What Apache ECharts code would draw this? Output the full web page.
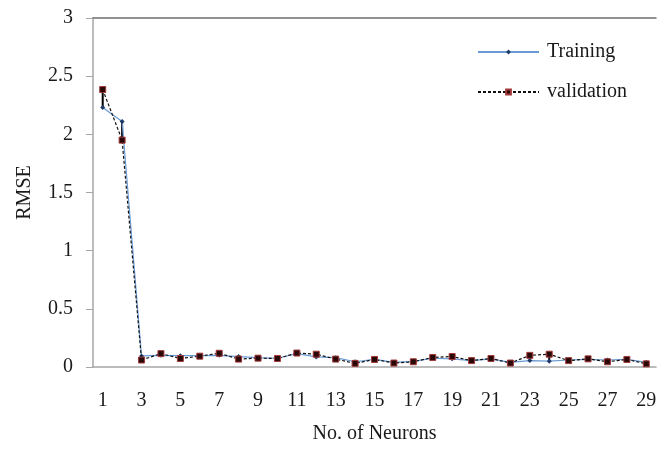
<!DOCTYPE html>
<html>
<head>
<meta charset="utf-8">
<script src="https://cdn.jsdelivr.net/npm/echarts@6/dist/echarts.min.js"></script>
<style>
  html, body { margin: 0; padding: 0; background: #fff; }
  #chart { width: 660px; height: 449px; }
</style>
</head>
<body>
<div id="chart"></div>
<script>
// Number of neurons in the hidden layer
const neurons = ['1','2','3','4','5','6','7','8','9','10','11','12','13','14','15',
                 '16','17','18','19','20','21','22','23','24','25','26','27','28','29'];

// RMSE on the training set
const training = [2.23, 2.11, 0.095, 0.10, 0.097, 0.097, 0.10, 0.09, 0.08, 0.075,
                  0.115, 0.087, 0.08, 0.045, 0.065, 0.04, 0.048, 0.075, 0.07, 0.055,
                  0.07, 0.04, 0.055, 0.05, 0.06, 0.065, 0.06, 0.065, 0.04];

// RMSE on the validation set
const validation = [2.385, 1.95, 0.06, 0.115, 0.073, 0.093, 0.118, 0.068, 0.076, 0.073,
                    0.12, 0.11, 0.068, 0.031, 0.065, 0.034, 0.045, 0.082, 0.09, 0.055,
                    0.073, 0.034, 0.10, 0.11, 0.055, 0.07, 0.045, 0.065, 0.027];

const seriesNames = ['Training', 'validation'];
const yTicks = { min: 0, max: 3, interval: 0.5 };

const serif = '"Liberation Serif", "Times New Roman", serif';
const fs = 20;

// High-low bars joining the two series at each neuron count
const hiLow = neurons.map((n, i) => [i, training[i], validation[i]]);

const chart = echarts.init(document.getElementById('chart'), null, { renderer: 'canvas' });

chart.setOption({
  animation: false,
  backgroundColor: '#ffffff',
  textStyle: { fontFamily: serif },
  grid: { left: 93, right: 4, top: 18, bottom: 76 },
  legend: {
    data: seriesNames,
    orient: 'vertical',
    left: 477,
    top: 42,
    padding: 0,
    itemWidth: 61,
    itemHeight: 6,
    itemGap: 20,
    textStyle: { fontFamily: serif, fontSize: fs, color: '#1a1a1a', lineHeight: 20, padding: [0, 0, 0, 3] }
  },
  xAxis: [{
    type: 'category',
    data: neurons,
    boundaryGap: true,
    name: 'No. of Neurons',
    nameLocation: 'middle',
    nameGap: 57,
    nameTextStyle: { fontFamily: serif, fontSize: fs, color: '#1a1a1a' },
    axisLine: { lineStyle: { color: '#a6a6a6', width: 1.5 } },
    axisTick: { show: false },
    axisLabel: { interval: 1, margin: 24, fontFamily: serif, fontSize: fs, color: '#1a1a1a' },
    splitLine: { show: false }
  }, {
    type: 'category',
    data: neurons,
    position: 'top',
    axisLine: { lineStyle: { color: '#6e6e6e', width: 1.5 } },
    axisTick: { show: false },
    axisLabel: { show: false },
    splitLine: { show: false }
  }],
  yAxis: {
    type: 'value',
    min: yTicks.min,
    max: yTicks.max,
    interval: yTicks.interval,
    name: 'RMSE',
    nameLocation: 'middle',
    nameGap: 58,
    nameTextStyle: { fontFamily: serif, fontSize: fs, color: '#1a1a1a' },
    axisLine: { show: true, lineStyle: { color: '#a6a6a6', width: 1.5 } },
    axisTick: { show: true, length: 7, lineStyle: { color: '#a6a6a6' } },
    axisLabel: { margin: 20, fontFamily: serif, fontSize: fs, color: '#1a1a1a' },
    splitLine: { show: false }
  },
  series: [
    {
      name: 'hilo',
      type: 'custom',
      xAxisIndex: 0,
      silent: true,
      z: 1,
      renderItem: function (params, api) {
        const p1 = api.coord([api.value(0), api.value(1)]);
        const p2 = api.coord([api.value(0), api.value(2)]);
        return {
          type: 'line',
          shape: { x1: p1[0], y1: p1[1], x2: p2[0], y2: p2[1] },
          style: { stroke: '#000000', lineWidth: 2 }
        };
      },
      encode: { x: 0, y: [1, 2] },
      data: hiLow
    },
    {
      name: seriesNames[0],
      type: 'line',
      data: training,
      z: 3,
      symbol: 'diamond',
      symbolSize: 5,
      lineStyle: { color: '#6a9ad4', width: 1.2 },
      itemStyle: { color: '#1f3a66' }
    },
    {
      name: seriesNames[1],
      type: 'line',
      data: validation,
      z: 4,
      symbol: 'rect',
      symbolSize: 6,
      lineStyle: { color: '#111111', width: 1.2, type: [3, 2] },
      itemStyle: { color: '#2a0808', borderColor: '#a33a3a', borderWidth: 1 }
    }
  ]
});
</script>
</body>
</html>
